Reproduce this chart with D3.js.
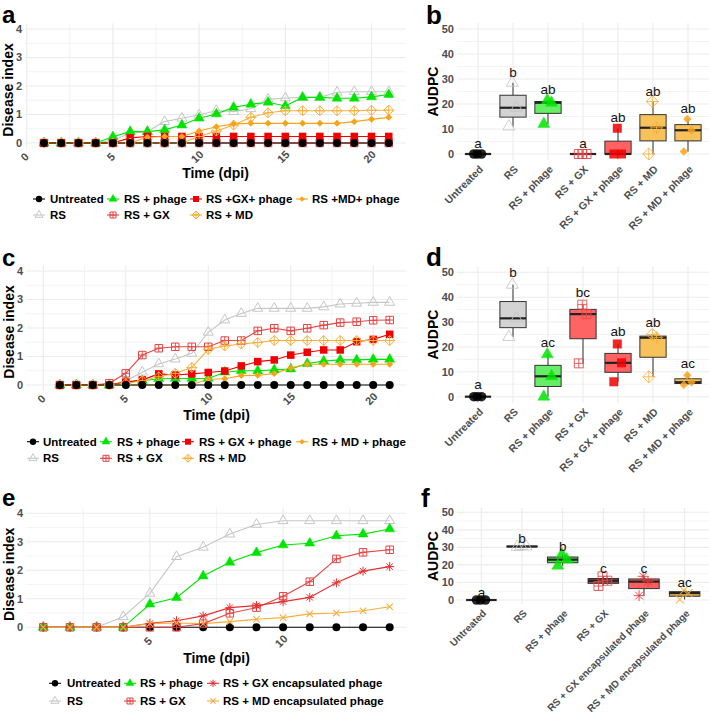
<!DOCTYPE html>
<html><head><meta charset="utf-8">
<script src="https://cdn.jsdelivr.net/npm/d3@7"></script>
<style>body{margin:0;background:#fff}svg{display:block;font-family:"Liberation Sans",Arial,Helvetica,sans-serif}</style>
</head><body><svg id="chart" width="709" height="715"></svg>
<script>
// ================= DATA =================
const daysAC = [1,2,3,4,5,6,7,8,9,10,11,12,13,14,15,16,17,18,19,20,21];
const daysE  = [1,2,3,4,5,6,7,8,9,10,11,12,13,14];

// panel a (disease index)
const aUntreated   = [0,0,0,0,0,0,0,0,0,0,0,0,0,0,0,0,0,0,0,0,0];
const aRS          = [0,0,0,0,0.1,0.34,0.4,0.75,0.87,0.98,1.14,1.1,1.2,1.53,1.58,1.6,1.6,1.78,1.8,1.8,1.8];
const aRSphage     = [0,0,0,0,0.22,0.4,0.4,0.46,0.63,0.87,1.02,1.25,1.36,1.43,1.3,1.6,1.6,1.57,1.57,1.62,1.7];
const aRSGX        = [0,0,0,0,0,0,0,0,0,0,0,0,0,0,0,0,0,0,0,0,0];
const aRSGXphage   = [0,0,0,0,0,0.18,0.23,0.23,0.23,0.23,0.23,0.23,0.23,0.23,0.23,0.23,0.23,0.23,0.23,0.23,0.23];
const aRSMD        = [0,0,0,0,0,0,0,0,0,0.23,0.42,0.63,0.9,1.06,1.13,1.13,1.13,1.13,1.13,1.15,1.15];
const aRSMDphage   = [0,0,0,0,0,0,0.2,0.23,0.23,0.42,0.57,0.67,0.69,0.69,0.69,0.69,0.69,0.69,0.75,0.83,0.9];

// panel c
const cUntreated   = [0,0,0,0,0,0,0,0,0,0,0,0,0,0,0,0,0,0,0,0,0];
const cRS          = [0,0,0,0,0.15,0.45,0.74,0.91,1.11,1.85,2.28,2.51,2.69,2.69,2.69,2.69,2.74,2.84,2.87,2.9,2.9];
const cRSphage     = [0,0,0,0,0.1,0.15,0.22,0.23,0.23,0.23,0.45,0.5,0.5,0.53,0.56,0.75,0.84,0.88,0.88,0.9,0.9];
const cRSGX        = [0,0,0,0.06,0.41,1.05,1.29,1.34,1.34,1.34,1.56,1.56,1.9,1.99,1.9,1.99,2.1,2.19,2.22,2.27,2.28];
const cRSGXphage   = [0,0,0,0,0.1,0.18,0.39,0.35,0.39,0.44,0.49,0.67,0.82,0.88,1.05,1.15,1.23,1.23,1.52,1.6,1.78];
const cRSMD        = [0,0,0,0,0.05,0.15,0.29,0.41,0.61,1.25,1.37,1.44,1.49,1.56,1.56,1.56,1.56,1.56,1.56,1.56,1.56];
const cRSMDphage   = [0,0,0,0,0,0,0,0,0.02,0.2,0.22,0.33,0.34,0.4,0.6,0.73,0.73,0.73,0.73,0.73,0.73];

// panel e
const eUntreated   = [0,0,0,0,0,0,0,0,0,0,0,0,0,0];
const eRS          = [0,0,0,0.37,1.19,2.48,2.81,3.27,3.61,3.74,3.74,3.74,3.74,3.74];
const eRSphage     = [0,0,0,0,0.81,1.04,1.8,2.28,2.62,2.89,2.95,3.21,3.27,3.45];
const eRSGX        = [0,0,0,0,0,0,0.13,0.49,0.69,1.09,1.6,2.4,2.63,2.72];
const eRSGXenc     = [0,0,0,0,0.14,0.23,0.4,0.69,0.76,0.9,1.05,1.56,1.97,2.13];
const eRSMDenc     = [0,0,0,0,0.13,0.15,0.13,0.2,0.28,0.34,0.47,0.5,0.58,0.72];

// AUDPC replicates (panels b, d, f)
const boxCatsBD = ["Untreated","RS","RS + phage","RS + GX","RS + GX + phage","RS + MD","RS + MD + phage"];
const boxCatsF  = ["Untreated","RS","RS + phage","RS + GX","RS + GX encapsulated phage","RS + MD encapsulated phage"];

const bValues = [[0,0,0],[11,18.5,28.5],[12,20.5,21.5],[0,0,0],[0,0,10.3],[0,10.5,21],[1,9.5,14]];
const dValues = [[0,0,0],[24,31.5,45],[0,8.2,17],[13.4,33.2,37],[6,13.6,21.2],[8,23.7,25],[4.8,5.8,8.6]];
const fValues = [[0,0,0],[30.2,30.5,30.8],[19.5,23,26],[8,11,13.5],[2.5,10.5,13.5],[0.3,4,5.5]];

const bLetters = ["a","b","ab","a","ab","ab","ab"];
const dLetters = ["a","b","ac","bc","ab","ab","ac"];
const fLetters = ["a","b","b","c","c","ac"];

// tick labels
const lineTicksAC = [0,5,10,15,20];
const lineTicksE  = [5,10];
const diseaseTicks = [0,1,2,3,4];
const audpcTicks = [0,10,20,30,40,50];

// legends
const legendA = [["Untreated","RS + phage","RS +GX+ phage","RS +MD+ phage"],["RS","RS + GX","RS + MD"]];
const legendC = [["Untreated","RS + phage","RS + GX + phage","RS + MD + phage"],["RS","RS + GX","RS + MD"]];
const legendE = [["Untreated","RS + phage","RS + GX encapsulated phage"],["RS","RS + GX","RS + MD encapsulated phage"]];

// ================= STYLES =================
const STY = {
  "Untreated": {color:"#000000", shape:"circle", fill:"#000000"},
  "RS": {color:"#c6c6c6", shape:"triOpen", fill:"#d3d3d3"},
  "RS + phage": {color:"#00e400", shape:"triFill", fill:"#66ee66"},
  "RS + GX": {color:"#e54545", shape:"sqPlus", fill:"#ff6464"},
  "RS + GX + phage": {color:"#f00000", shape:"sqFill", fill:"#ff6262"},
  "RS + MD": {color:"#f5b03a", shape:"diaPlus", fill:"#f8c25a"},
  "RS + MD + phage": {color:"#f7a31c", shape:"diaFill", fill:"#f8c25a"},
  "RS + GX encapsulated phage": {color:"#e63030", shape:"star", fill:"#ff5e5e"},
  "RS + MD encapsulated phage": {color:"#f5ae3e", shape:"cross", fill:"#dba84c"}
};
const legendKeyMap = {"RS +GX+ phage":"RS + GX + phage","RS +MD+ phage":"RS + MD + phage"};
const SIZE = {circle:8, triOpen:10, triFill:10, sqPlus:7.5, sqFill:7.5, diaPlus:10, diaFill:7, star:9, cross:8};
const FONT_TICK = 11, TICK_COL = "#4d4d4d", GRID = "#ebebeb";

const svg = d3.select("#chart");

function shape(g, type, x, y, s, color, op) {
  op = op == null ? 1 : op;
  const r = s/2;
  if (type === "circle") {
    g.append("circle").attr("cx",x).attr("cy",y).attr("r",r).attr("fill",color).attr("opacity",op);
  } else if (type === "triOpen" || type === "triFill") {
    const h = s*0.866;
    g.append("path").attr("d",`M${x},${y-h*2/3}L${x+r},${y+h/3}L${x-r},${y+h/3}Z`)
      .attr("fill", type==="triFill"?color:"none").attr("stroke",color)
      .attr("stroke-width", type==="triFill"?0.5:1).attr("opacity",op);
  } else if (type === "sqPlus") {
    g.append("path").attr("d",`M${x-r},${y-r}h${s}v${s}h${-s}Z M${x-r},${y}h${s} M${x},${y-r}v${s}`)
      .attr("fill","none").attr("stroke",color).attr("stroke-width",1).attr("opacity",op);
  } else if (type === "sqFill") {
    g.append("rect").attr("x",x-r).attr("y",y-r).attr("width",s).attr("height",s).attr("fill",color).attr("opacity",op);
  } else if (type === "diaPlus") {
    g.append("path").attr("d",`M${x},${y-r}L${x+r},${y}L${x},${y+r}L${x-r},${y}Z M${x-r},${y}h${s} M${x},${y-r}v${s}`)
      .attr("fill","none").attr("stroke",color).attr("stroke-width",1).attr("opacity",op);
  } else if (type === "diaFill") {
    g.append("path").attr("d",`M${x},${y-r}L${x+r},${y}L${x},${y+r}L${x-r},${y}Z`).attr("fill",color).attr("opacity",op);
  } else if (type === "star") {
    let d = "";
    [0,45,90,135].forEach(a => { const c=Math.cos(a*Math.PI/180)*r, sn=Math.sin(a*Math.PI/180)*r; d += `M${x-c},${y-sn}L${x+c},${y+sn}`; });
    g.append("path").attr("d",d).attr("stroke",color).attr("stroke-width",1).attr("fill","none").attr("opacity",op);
  } else if (type === "cross") {
    const c = r*0.8;
    g.append("path").attr("d",`M${x-c},${y-c}L${x+c},${y+c}M${x-c},${y+c}L${x+c},${y-c}`).attr("stroke",color).attr("stroke-width",1.1).attr("fill","none").attr("opacity",op);
  }
}

function panelLetter(txt, x, y, fs) {
  svg.append("text").attr("x",x).attr("y",y).attr("font-size",fs).attr("font-weight","bold").attr("fill","#000").text(txt);
}

// ================= LINE PANELS =================
function linePanel(o) {
  const g = svg.append("g");
  const x = d3.scaleLinear().domain(o.xDomain).range([o.L, o.R]);
  const y = d3.scaleLinear().domain([-0.2, 4.2]).range([o.B, o.T]);
  const xmin = x.invert(o.L), xmax = x.invert(o.R);
  const minorX = [], majorX = [];
  for (let v = 0; v <= 25; v += 2.5) { if (v >= xmin && v <= xmax) (v % 5 === 0 ? majorX : minorX).push(v); }
  minorX.forEach(v => g.append("line").attr("x1",x(v)).attr("x2",x(v)).attr("y1",o.T).attr("y2",o.B).attr("stroke",GRID).attr("stroke-width",0.6));
  [0.5,1.5,2.5,3.5].forEach(v => g.append("line").attr("x1",o.L).attr("x2",o.R).attr("y1",y(v)).attr("y2",y(v)).attr("stroke",GRID).attr("stroke-width",0.6));
  majorX.forEach(v => g.append("line").attr("x1",x(v)).attr("x2",x(v)).attr("y1",o.T).attr("y2",o.B).attr("stroke",GRID).attr("stroke-width",1.1));
  diseaseTicks.forEach(v => g.append("line").attr("x1",o.L).attr("x2",o.R).attr("y1",y(v)).attr("y2",y(v)).attr("stroke",GRID).attr("stroke-width",1.1));
  diseaseTicks.forEach(v => g.append("text").attr("x",o.L-3).attr("y",y(v)).attr("dy","0.36em").attr("text-anchor","end")
    .attr("font-size",FONT_TICK).attr("font-weight","bold").attr("fill",TICK_COL).text(v));
  o.xTicks.forEach(v => g.append("text").attr("transform",`translate(${x(v)-2},${o.B+8}) rotate(-45)`)
    .attr("text-anchor","middle").attr("dy","0.36em").attr("font-size",FONT_TICK).attr("font-weight","bold").attr("fill",TICK_COL).text(v));
  g.append("text").attr("transform",`translate(${o.L-12},${(o.T+o.B)/2+4}) rotate(-90)`).attr("text-anchor","middle")
    .attr("font-size",14).attr("font-weight","bold").text("Disease index");
  g.append("text").attr("x",(o.L+o.R)/2).attr("y",o.titleY).attr("text-anchor","middle")
    .attr("font-size",14).attr("font-weight","bold").text("Time (dpi)");
  const line = d3.line().x((d,i) => x(o.days[i])).y(d => y(d));
  o.series.forEach(s => g.append("path").attr("d", line(s.vals)).attr("fill","none")
    .attr("stroke",STY[s.key].color).attr("stroke-width",1.1));
  o.series.forEach(s => {
    const st = STY[s.key];
    s.vals.forEach((v,i) => shape(g, st.shape, x(o.days[i]), y(v), SIZE[st.shape], st.color));
  });
  o.legend.rows.forEach((row, ri) => {
    const yy = o.legend.y[ri];
    row.forEach((lab, ci) => {
      const key = legendKeyMap[lab] || lab;
      const st = STY[key];
      const sx = o.legend.sx[ci];
      g.append("line").attr("x1",sx-6).attr("x2",sx+6).attr("y1",yy).attr("y2",yy).attr("stroke",st.color).attr("stroke-width",1.1);
      shape(g, st.shape, sx, yy, SIZE[st.shape]*0.8, st.color);
      g.append("text").attr("x",o.legend.tx[ci]).attr("y",yy).attr("dy","0.36em").attr("font-size",11.5)
        .attr("font-weight","bold").attr("fill","#000").text(lab);
    });
  });
}

linePanel({
  L:25, R:406, T:23.3, B:148.7, xDomain:[-0.1,22.0], days:daysAC, xTicks:lineTicksAC, titleY:178,
  series:[{key:"RS",vals:aRS},{key:"RS + phage",vals:aRSphage},{key:"RS + GX",vals:aRSGX},{key:"RS + GX + phage",vals:aRSGXphage},
          {key:"RS + MD",vals:aRSMD},{key:"RS + MD + phage",vals:aRSMDphage},{key:"Untreated",vals:aUntreated}],
  legend:{rows:legendA, y:[199,215], sx:[39,113,196,302], tx:[50,124,206,312]}
});
linePanel({
  L:26, R:407, T:265.3, B:390.7, xDomain:[-1.05,22.05], days:daysAC, xTicks:lineTicksAC, titleY:420,
  series:[{key:"RS",vals:cRS},{key:"RS + phage",vals:cRSphage},{key:"RS + GX",vals:cRSGX},{key:"RS + GX + phage",vals:cRSGXphage},
          {key:"RS + MD",vals:cRSMD},{key:"RS + MD + phage",vals:cRSMDphage},{key:"Untreated",vals:cUntreated}],
  legend:{rows:legendC, y:[441.7,458.3], sx:[33,106,188,302], tx:[43,117,199,312]}
});
linePanel({
  L:26, R:407, T:507.6, B:633, xDomain:[0.35,14.65], days:daysE, xTicks:lineTicksE, titleY:663,
  series:[{key:"Untreated",vals:eUntreated},{key:"RS",vals:eRS},{key:"RS + phage",vals:eRSphage},{key:"RS + GX",vals:eRSGX},
          {key:"RS + GX encapsulated phage",vals:eRSGXenc},{key:"RS + MD encapsulated phage",vals:eRSMDenc}],
  legend:{rows:legendE, y:[683.3,701], sx:[55,130,213], tx:[67,140,223]}
});

// ================= BOX PANELS =================
function boxPanel(o) {
  const g = svg.append("g");
  const x = d3.scalePoint().domain(o.cats).range([o.L, o.R]).padding(0.6);
  const step = x.step();
  const y = d3.scaleLinear().domain([-2.5, 52.5]).range([o.B, o.T]);
  [5,15,25,35,45].forEach(v => g.append("line").attr("x1",o.L).attr("x2",o.R).attr("y1",y(v)).attr("y2",y(v)).attr("stroke",GRID).attr("stroke-width",0.6));
  audpcTicks.forEach(v => g.append("line").attr("x1",o.L).attr("x2",o.R).attr("y1",y(v)).attr("y2",y(v)).attr("stroke",GRID).attr("stroke-width",1.1));
  o.cats.forEach(c => g.append("line").attr("x1",x(c)).attr("x2",x(c)).attr("y1",o.T).attr("y2",o.B).attr("stroke",GRID).attr("stroke-width",1.1));
  audpcTicks.forEach(v => g.append("text").attr("x",o.L-3).attr("y",y(v)).attr("dy","0.36em").attr("text-anchor","end")
    .attr("font-size",FONT_TICK).attr("font-weight","bold").attr("fill",TICK_COL).text(v));
  o.cats.forEach(c => g.append("text").attr("transform",`translate(${x(c)+3},${o.B+7}) rotate(-45)`)
    .attr("text-anchor","end").attr("dy","0.36em").attr("font-size",o.catFont).attr("font-weight","bold").attr("fill",TICK_COL).text(c));
  g.append("text").attr("transform",`translate(${o.L-19},${(o.T+o.B)/2}) rotate(-90)`).attr("text-anchor","middle")
    .attr("font-size",14).attr("font-weight","bold").text("AUDPC");
  const bw = step*0.75;
  const jit = [-0.12, 0.1, -0.02];
  o.cats.forEach((c,i) => {
    const vals = o.values[i].slice().sort(d3.ascending);
    const q1 = d3.quantile(vals,0.25), md = d3.quantile(vals,0.5), q3 = d3.quantile(vals,0.75);
    const iqr = q3-q1;
    const lo = d3.min(vals.filter(v => v >= q1-1.5*iqr)), hi = d3.max(vals.filter(v => v <= q3+1.5*iqr));
    const cx = x(c);
    const fill = (o.fills && o.fills[i]) || STY[c].fill;
    g.append("line").attr("x1",cx).attr("x2",cx).attr("y1",y(hi)).attr("y2",y(q3)).attr("stroke","#333").attr("stroke-width",1);
    g.append("line").attr("x1",cx).attr("x2",cx).attr("y1",y(q1)).attr("y2",y(lo)).attr("stroke","#333").attr("stroke-width",1);
    g.append("rect").attr("x",cx-bw/2).attr("y",y(q3)).attr("width",bw).attr("height",Math.max(0,y(q1)-y(q3)))
      .attr("fill",fill).attr("stroke","#333").attr("stroke-width",1);
    g.append("line").attr("x1",cx-bw/2).attr("x2",cx+bw/2).attr("y1",y(md)).attr("y2",y(md)).attr("stroke","#222").attr("stroke-width",2.2);
    const st = STY[c];
    o.values[i].forEach((v,j) => shape(g, st.shape, cx + jit[j]*step, y(v), SIZE[st.shape]*1.2, st.color, 0.85));
    g.append("text").attr("x",cx).attr("y",y(d3.max(vals)+o.letterOff)).attr("dy","0.36em").attr("text-anchor","middle")
      .attr("font-size",13.5).attr("fill","#111").text(o.letters[i]);
  });
}

boxPanel({L:457, R:709, T:22.75, B:160.25, cats:boxCatsBD, values:bValues, letters:bLetters, letterOff:4.3, catFont:10.5});
boxPanel({L:457, R:709, T:266.1, B:402.9, cats:boxCatsBD, values:dValues, letters:dLetters, letterOff:5, catFont:10.5});
boxPanel({L:457, R:709, T:507.9, B:604.4, cats:boxCatsF, values:fValues, letters:fLetters, letterOff:4.6, catFont:10,
          fills:[null,null,"#55dd55","#a84848",null,null]});

panelLetter("a", 2, 23, 24);
panelLetter("b", 426, 24, 26);
panelLetter("c", 2, 266, 24);
panelLetter("d", 426, 266, 26);
panelLetter("e", 2, 506, 24);
panelLetter("f", 421, 507, 26);
</script>
</body></html>
